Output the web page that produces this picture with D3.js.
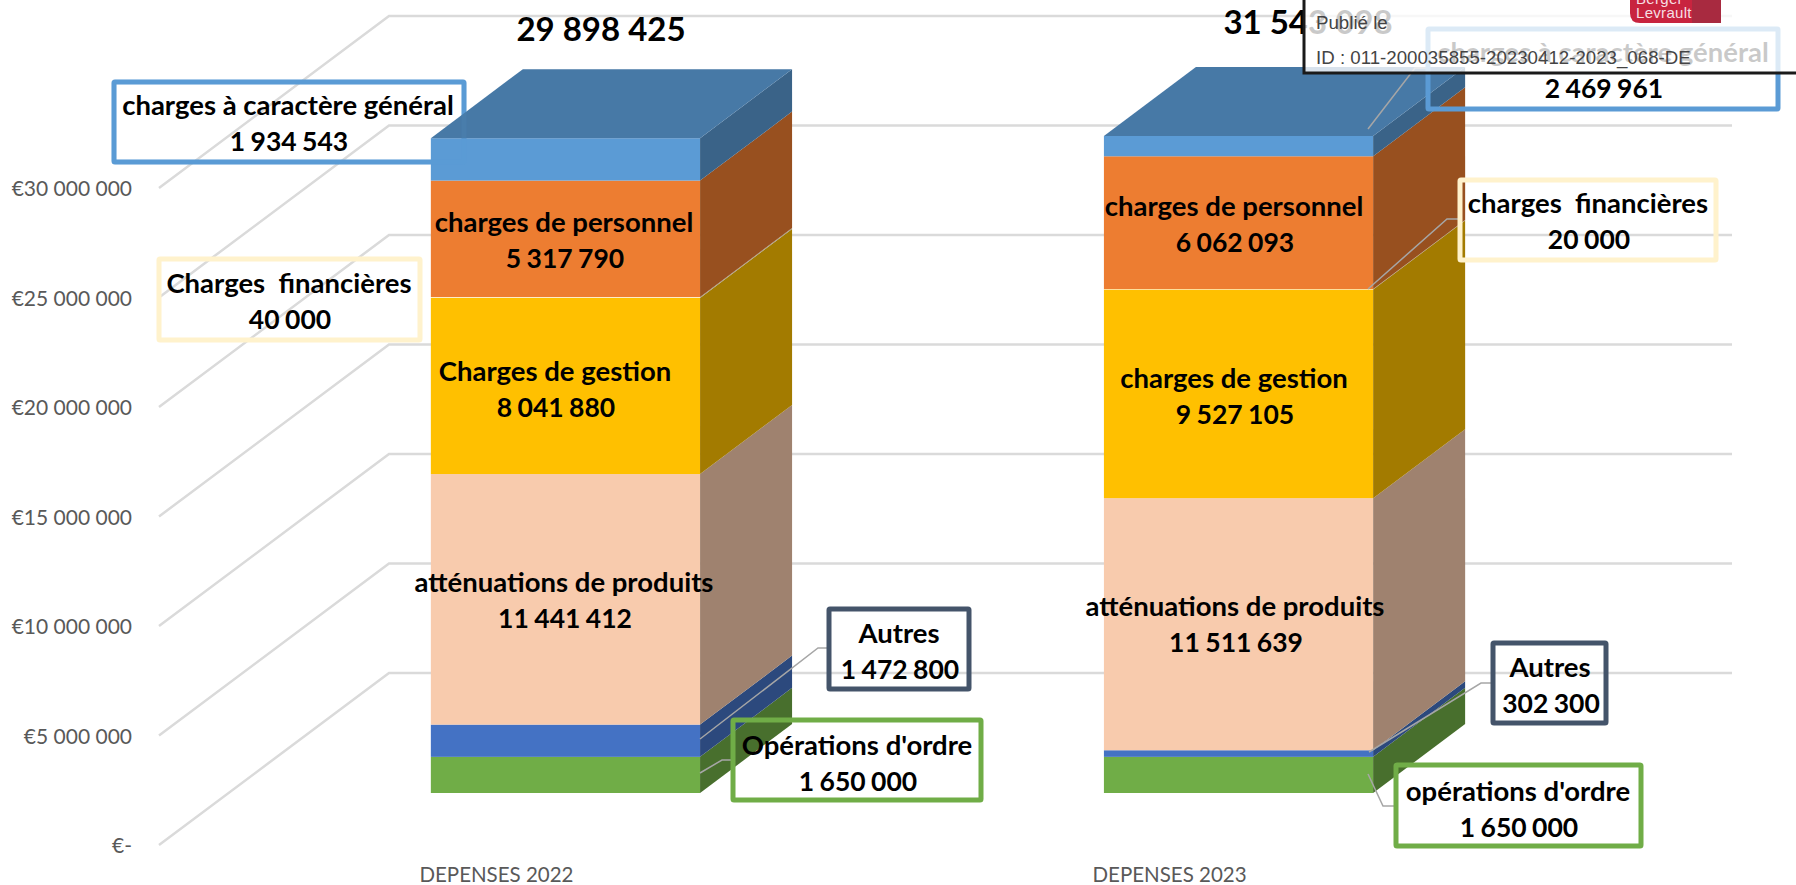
<!DOCTYPE html>
<html>
<head>
<meta charset="utf-8">
<script src="https://cdn.jsdelivr.net/npm/d3@7"></script>
<style>
  html, body { margin: 0; background: #fff; overflow: hidden; }
  svg { display: block; }
  text { font-family: Lato, sans-serif; }
</style>
</head>
<body>
<svg id="chart" width="1796" height="885"></svg>
<script>
const categories = ["DEPENSES 2022", "DEPENSES 2023"]
const seriesKeys = ["ordre", "autres", "attenuations", "gestion", "financieres", "personnel", "general"]
const values2022 = [1650000, 1472800, 11441412, 8041880, 40000, 5317790, 1934543]
const values2023 = [1650000, 302300, 11511639, 9527105, 20000, 6062093, 2469961]
const names2022 = ["Opérations d'ordre", "Autres", "atténuations de produits", "Charges de gestion", "Charges  financières", "charges de personnel", "charges à caractère général"]
const names2023 = ["opérations d'ordre", "Autres", "atténuations de produits", "charges de gestion", "charges  financières", "charges de personnel", "charges à caractère général"]
const seriesColors = ["#70AD47", "#4472C4", "#F8CBAD", "#FFC000", "#FFF2CC", "#ED7D31", "#5B9BD5"]
const boxColors = ["#70AD47", "#44546A", null, null, "#FFF2CC", null, "#5B9BD5"]
const axisTicks = [0, 5000000, 10000000, 15000000, 20000000, 25000000, 30000000]

const width = 1796
const height = 885
const depthFloor = { x: 230, y: 172 } // whole floor of the 3d box
const depthBar = { x: 92, y: 69 }
const barDrop = 52 // front of the bars sits this far behind the front of the floor

const allValues = [values2022, values2023]
const allNames = [names2022, names2023]

// labels sitting on the bars: [category, series, centre x, first line y]
const barLabels = [
  [0, 5, 564, 232], [0, 3, 555, 381], [0, 2, 564, 592],
  [1, 5, 1234, 216], [1, 3, 1234, 388], [1, 2, 1235, 616]
]
// boxed labels: category, series, box, leader line
const callouts = [
  { c: 0, s: 6, box: [114, 82, 350, 80], cx: 288, y: 115, under: true },
  { c: 0, s: 4, box: [159, 259, 261, 81], cx: 289, y: 293 },
  { c: 0, s: 1, box: [829, 609, 140, 80], cx: 899, y: 643, line: [[700, 739], [818, 648], [829, 648]] },
  { c: 0, s: 0, box: [733, 720, 248, 80], cx: 857, y: 755, line: [[700, 773], [722, 760], [733, 760]] },
  { c: 1, s: 6, box: [1428, 29, 350, 80], cx: 1603, y: 62, line: [[1368, 129], [1415, 68], [1428, 68]] },
  { c: 1, s: 4, box: [1460, 180, 256, 80], cx: 1588, y: 213, line: [[1368, 289], [1447, 219], [1460, 219]] },
  { c: 1, s: 1, box: [1493, 643, 113, 80], cx: 1550, y: 677, line: [[1369, 752], [1481, 683], [1493, 683]] },
  { c: 1, s: 0, box: [1396, 765, 245, 81], cx: 1518, y: 801, line: [[1368, 774], [1383, 806], [1396, 806]] }
]
const totalLabels = [[601, 41], [1308, 34]]

const numLocale = d3.formatLocale({ thousands: " ", grouping: [3], decimal: ",", currency: ["€", ""] })
const fmt = numLocale.format(",d")

function shade(color, k) {
  const c = d3.rgb(color)
  return d3.rgb(c.r * k, c.g * k, c.b * k).formatHex()
}

const yFront = d3.scaleLinear().domain([0, 30000000]).range([845, 188])
// the axis stops at 30M, so the 2023 stack gets cut there
const yBar = d3.scaleLinear().domain([0, 30000000]).range([845 - barDrop, 188 - barDrop]).clamp(true)
const x = d3.scaleBand().domain(categories).range([27, 1777]).padding(0.6)

const svg = d3.select("#chart")

// gridlines, up the left wall then along the back wall
svg.append("g")
  .selectAll("path")
  .data(axisTicks)
  .join("path")
  .attr("fill", "none")
  .attr("stroke", "#DADADA")
  .attr("stroke-width", 2.5)
  .attr("d", d => {
    const y0 = yFront(d)
    return `M159,${y0} L${159 + depthFloor.x},${y0 - depthFloor.y} L1732,${y0 - depthFloor.y}`
  })

// axis
const axis = svg.append("g")
  .attr("transform", "translate(132,1)")
  .call(d3.axisLeft(yFront).tickValues(axisTicks).tickSize(0).tickPadding(0)
    .tickFormat(d => d === 0 ? "€-" : "€" + fmt(d)))
axis.select(".domain").remove()
axis.selectAll("text")
  .attr("fill", "#595959")
  .style("font-family", "Lato, sans-serif")
  .style("font-size", "21px")

function drawBox(parent, d, opacity) {
  parent.append("rect")
    .attr("x", d.box[0]).attr("y", d.box[1])
    .attr("width", d.box[2]).attr("height", d.box[3])
    .attr("rx", 1)
    .attr("fill", "none")
    .attr("stroke", boxColors[d.s])
    .attr("stroke-width", 5)
    .attr("opacity", opacity)
}

callouts.filter(d => d.under).forEach(d => drawBox(svg, d, 1))

// bars
categories.forEach((cat, ci) => {
  const stack = d3.cumsum(allValues[ci])
  const g = svg.append("g")
  const x0 = x(cat)
  const x1 = x0 + x.bandwidth()
  allValues[ci].forEach((v, si) => {
    const yTop = yBar(stack[si])
    const yBottom = yBar(stack[si] - v)
    g.append("rect")
      .attr("x", x0).attr("y", yTop)
      .attr("width", x1 - x0).attr("height", yBottom - yTop)
      .attr("fill", seriesColors[si])
    g.append("path")
      .attr("fill", shade(seriesColors[si], 0.64))
      .attr("d", `M${x1},${yBottom} L${x1 + depthBar.x},${yBottom - depthBar.y} L${x1 + depthBar.x},${yTop - depthBar.y} L${x1},${yTop} Z`)
  })
  const top = yBar(stack[stack.length - 1])
  g.append("path")
    .attr("fill", shade(seriesColors[seriesColors.length - 1], 0.78))
    .attr("d", `M${x0},${top} L${x0 + depthBar.x},${top - depthBar.y} L${x1 + depthBar.x},${top - depthBar.y} L${x1},${top} Z`)
})

// leader lines
svg.append("g")
  .selectAll("path")
  .data(callouts.filter(d => d.line))
  .join("path")
  .attr("fill", "none")
  .attr("stroke", "#A6A6A6")
  .attr("stroke-width", 1.5)
  .attr("d", d => d3.line()(d.line))

callouts.filter(d => d.under).forEach(d => drawBox(svg, d, 0.12))
callouts.filter(d => !d.under).forEach(d => drawBox(svg, d, 1))

function twoLines(cx, y, name, value) {
  [name, fmt(value)].forEach((t, i) => {
    svg.append("text")
      .attr("x", cx + i)
      .attr("y", y + i * 36)
      .attr("text-anchor", "middle")
      .attr("font-size", i == 1 ? 26.5 : 27.5)
      .attr("font-weight", 700)
      .attr("fill", "#000")
      .style("white-space", "pre")
      .style("word-spacing", i == 1 ? "-1px" : "0")
      .text(t)
  })
}

barLabels.forEach(([c, s, cx, y]) => twoLines(cx, y, allNames[c][s], allValues[c][s]))
callouts.forEach(d => twoLines(d.cx, d.y, allNames[d.c][d.s], allValues[d.c][d.s]))

// totals
svg.selectAll(".total")
  .data(categories)
  .join("text")
  .attr("class", "total")
  .attr("x", (d, i) => totalLabels[i][0])
  .attr("y", (d, i) => totalLabels[i][1])
  .attr("text-anchor", "middle")
  .attr("font-size", 33)
  .attr("font-weight", 700)
  .text((d, i) => fmt(d3.sum(allValues[i])))

// category labels
svg.selectAll(".cat")
  .data(categories)
  .join("text")
  .attr("class", "cat")
  .attr("x", d => x(d) + x.bandwidth() / 2 - 69)
  .attr("y", 882)
  .attr("text-anchor", "middle")
  .attr("font-size", 20.5)
  .attr("fill", "#595959")
  .text(d => d)

// publication stamp pasted over the top right corner
svg.append("rect")
  .attr("x", 1304).attr("y", -5)
  .attr("width", 500).attr("height", 78)
  .attr("fill", "#fff")
  .attr("fill-opacity", 0.79)
  .attr("stroke", "#1a1a1a")
  .attr("stroke-width", 3)

const stamp = svg.append("g")
  .attr("font-size", 18.7)
  .attr("fill", "#444")
stamp.append("text").attr("x", 1316).attr("y", 29)
  .style("font-family", "'Liberation Sans', sans-serif").text("Publié le")
stamp.append("text").attr("x", 1316).attr("y", 64)
  .style("font-family", "'Liberation Sans', sans-serif").text("ID : 011-200035855-20230412-2023_068-DE")

// logo
svg.append("path")
  .attr("fill", "#C8243F")
  .attr("d", "M1630,0 H1721 V23 H1640 Q1630,23 1630,13 Z")
svg.append("rect").attr("x", 1692).attr("y", 0).attr("width", 29).attr("height", 23).attr("fill", "#A82A40")
const logo = svg.append("g")
  .attr("fill", "#f6dfe3")
  .attr("font-size", 15)
  .style("letter-spacing", "0.3px")
logo.append("text").attr("x", 1636).attr("y", 4)
  .style("font-family", "'Liberation Sans', sans-serif").text("Berger")
logo.append("text").attr("x", 1636).attr("y", 18)
  .style("font-family", "'Liberation Sans', sans-serif").text("Levrault")
</script>
</body>
</html>
